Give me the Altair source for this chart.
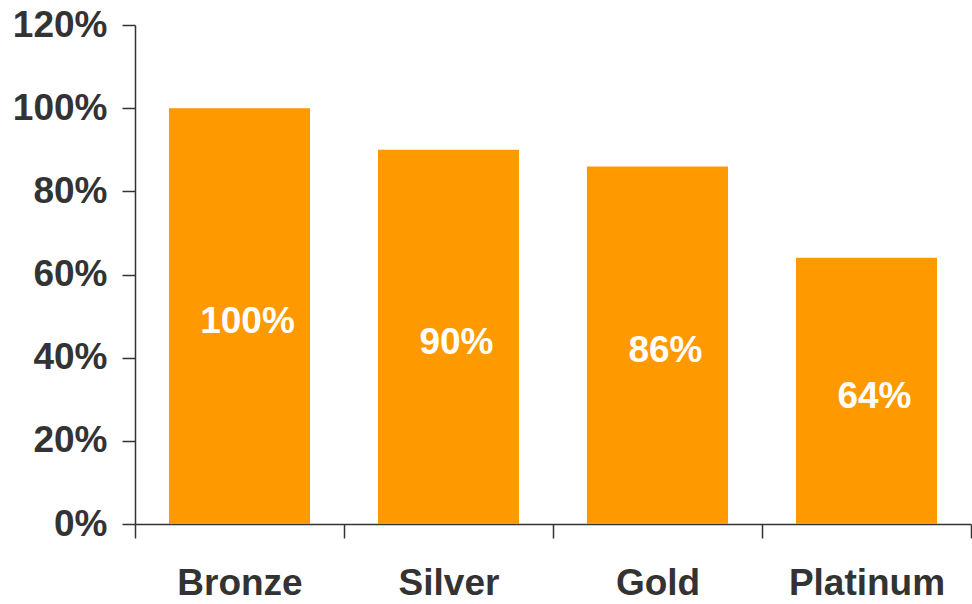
import altair as alt
import pandas as pd

categories = ["Bronze", "Silver", "Gold", "Platinum"]
values = [1.00, 0.90, 0.86, 0.64]
labels = ["100%", "90%", "86%", "64%"]

df = pd.DataFrame({"cat": categories, "val": values, "lab": labels})

FONT = "Liberation Sans"
DARK = "#333333"

x_enc = alt.X(
    "cat:N",
    sort=categories,
    title=None,
    scale=alt.Scale(paddingInner=0, paddingOuter=0),
    axis=alt.Axis(
        labelAngle=0,
        labelFont=FONT,
        labelFontSize=37,
        labelFontWeight="bold",
        labelColor=DARK,
        labelPadding=27,
        tickBand="extent",
        tickSize=14,
        tickColor=DARK,
        domainColor=DARK,
        tickWidth=1.5,
        domainWidth=1.5,
    ),
)

bars = alt.Chart(df).mark_bar(
    color="#FF9900", width=alt.RelativeBandSize(0.675)
).encode(
    x=x_enc,
    y=alt.Y(
        "val:Q",
        title=None,
        scale=alt.Scale(domain=[0, 1.2], nice=False),
        axis=alt.Axis(
            format=".0%",
            values=[0, 0.2, 0.4, 0.6, 0.8, 1.0, 1.2],
            grid=False,
            labelFont=FONT,
            labelFontSize=37,
            labelFontWeight="bold",
            labelColor=DARK,
            labelPadding=15,
            tickSize=13,
            tickColor=DARK,
            domainColor=DARK,
            tickWidth=1.5,
            domainWidth=1.5,
        ),
    ),
)

text = alt.Chart(df).transform_calculate(half="datum.val / 2").mark_text(
    color="white",
    font=FONT,
    fontSize=37,
    fontWeight="bold",
    dx=8,
    dy=6,
    baseline="middle",
).encode(
    x=alt.X("cat:N", sort=categories),
    y=alt.Y("half:Q"),
    text="lab:N",
)

chart = (
    alt.layer(bars, text)
    .properties(
        width=836,
        height=499,
        autosize=alt.AutoSizeParams(type="none"),
        padding={"left": 135, "top": 25, "right": 1, "bottom": 80},
    )
    .configure_view(stroke=None)
)

chart.save("out.html", embed_options={"renderer": "svg", "actions": False})
